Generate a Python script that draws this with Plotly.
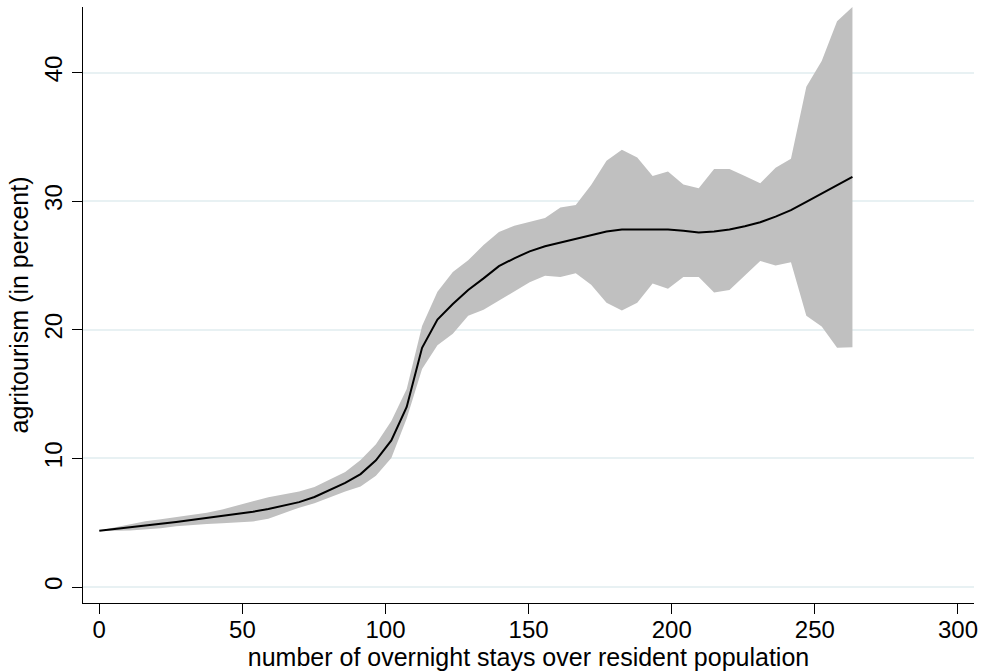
import plotly.graph_objects as go

# grid of x values (overnight stays over resident population)
x_vals = [0, 5.37, 10.74, 16.11, 21.48, 26.85, 32.22, 37.59, 42.96, 48.33,
          53.7, 59.07, 64.44, 69.81, 75.18, 80.55, 85.92, 91.29, 96.66, 102.03,
          107.4, 112.77, 118.14, 123.51, 128.88, 134.25, 139.62, 144.99, 150.36, 155.73,
          161.1, 166.47, 171.84, 177.21, 182.58, 187.95, 193.32, 198.69, 204.06, 209.43,
          214.8, 220.17, 225.54, 230.91, 236.28, 241.65, 247.02, 252.39, 257.76, 263.13]

# smoothed estimate (agritourism, percent)
mean_vals = [4.38, 4.5, 4.63, 4.77, 4.91, 5.05, 5.2, 5.35, 5.5, 5.67,
             5.85, 6.07, 6.31, 6.6, 7.0, 7.55, 8.1, 8.78, 9.85, 11.4,
             14.0, 18.6, 20.8, 22.0, 23.1, 24.0, 24.95, 25.56, 26.1, 26.5,
             26.8, 27.1, 27.4, 27.65, 27.8, 27.8, 27.8, 27.8, 27.7, 27.56,
             27.65, 27.8, 28.05, 28.36, 28.8, 29.3, 29.95, 30.6, 31.25, 31.9]

# upper confidence bound
upper_vals = [4.4, 4.65, 4.9, 5.12, 5.27, 5.42, 5.57, 5.77, 6.02, 6.37,
              6.67, 6.97, 7.17, 7.42, 7.77, 8.33, 8.95, 9.87, 11.1, 12.9,
              15.4, 20.3, 22.95, 24.5, 25.4, 26.6, 27.6, 28.1, 28.4, 28.7,
              29.5, 29.7, 31.25, 33.15, 34.0, 33.4, 31.95, 32.3, 31.3, 31.0,
              32.5, 32.5, 31.95, 31.4, 32.6, 33.3, 38.9, 40.9, 44.0, 45.1]

# lower confidence bound
lower_vals = [4.35, 4.37, 4.4, 4.47, 4.57, 4.72, 4.82, 4.9, 4.95, 5.0,
              5.1, 5.3, 5.72, 6.17, 6.52, 6.95, 7.42, 7.82, 8.65, 10.03,
              13.1, 16.95, 18.8, 19.7, 21.1, 21.55, 22.3, 23.0, 23.7, 24.2,
              24.1, 24.4, 23.5, 22.1, 21.5, 22.1, 23.6, 23.2, 24.1, 24.1,
              22.9, 23.1, 24.2, 25.35, 25.0, 25.25, 21.1, 20.25, 18.6, 18.65]

x_ticks = [0, 50, 100, 150, 200, 250, 300]
y_ticks = [0, 10, 20, 30, 40]

FONT = "Liberation Sans, Arial, Helvetica, sans-serif"

fig = go.Figure()
fig.add_trace(go.Scatter(
    x=x_vals + x_vals[::-1],
    y=upper_vals + lower_vals[::-1],
    fill="toself", fillcolor="#C0C0C0",
    line=dict(width=0, color="#C0C0C0"),
    mode="lines", hoverinfo="skip", showlegend=False,
))
fig.add_trace(go.Scatter(
    x=x_vals, y=mean_vals, mode="lines",
    line=dict(color="black", width=2),
    showlegend=False,
))

fig.update_layout(
    width=981, height=672,
    margin=dict(l=83, r=7, t=7, b=69),
    plot_bgcolor="white", paper_bgcolor="white",
    font=dict(family=FONT, size=24, color="black"),
    showlegend=False,
)
fig.update_xaxes(
    range=[-5.69, 305.6], automargin=False,
    tickmode="array", tickvals=x_ticks, ticktext=[str(v) for v in x_ticks],
    ticks="outside", ticklen=10, tickwidth=1.3, tickcolor="black",
    ticklabelstandoff=-5,
    showline=True, linecolor="black", linewidth=1.3,
    showgrid=False, zeroline=False,
    tickfont=dict(size=24),
    title=dict(text="number of overnight stays over resident population",
               font=dict(size=25), standoff=4),
)
fig.update_yaxes(
    range=[-1.244, 45.1], automargin=False,
    tickmode="array", tickvals=y_ticks, ticktext=[str(v) for v in y_ticks],
    ticks="outside", ticklen=10, tickwidth=1.3, tickcolor="black",
    tickangle=-90,
    showline=True, linecolor="black", linewidth=1.3,
    showgrid=True, gridcolor="#E8F1F3", gridwidth=1.5,
    zeroline=False,
    tickfont=dict(size=24),
    title=dict(text="agritourism (in percent)", font=dict(size=25), standoff=4),
)

fig.write_html(
    "out.html",
    config={"displayModeBar": False},
    post_script="document.body.style.margin='0';document.body.style.padding='0';document.body.style.overflow='hidden';",
)
